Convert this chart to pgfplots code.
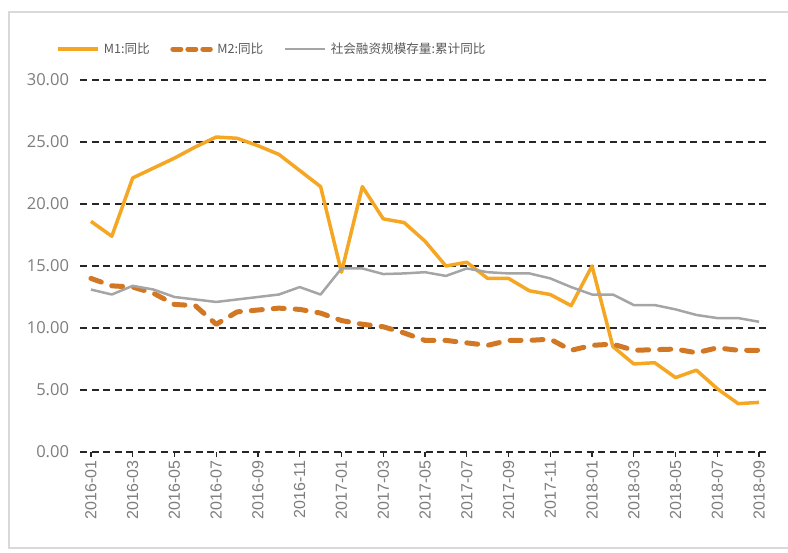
\documentclass[border=0pt]{standalone}
\usepackage{pgfplots}
\pgfplotsset{compat=1.18}
\usepackage{pgfplotstable}
\usepackage{fontspec}
\setmainfont{Open Sans}
\newfontfamily\cjk{Noto Sans CJK SC}
\newfontfamily\lib{Liberation Sans}
\definecolor{mone}{RGB}{245,166,35}
\definecolor{mtwo}{RGB}{210,120,36}
\definecolor{tsf}{RGB}{165,165,165}
\definecolor{lab}{RGB}{125,125,125}
\definecolor{leg}{RGB}{89,89,89}
\pgfplotstableread{
n m1 m2 tsf
0 18.6 14.0 13.1
1 17.4 13.4 12.7
2 22.1 13.3 13.4
3 22.9 12.8 13.1
4 23.7 11.9 12.5
5 24.6 11.8 12.3
6 25.4 10.3 12.1
7 25.3 11.3 12.3
8 24.7 11.45 12.5
9 24.0 11.6 12.7
10 22.7 11.5 13.3
11 21.4 11.2 12.7
12 14.5 10.6 14.8
13 21.4 10.3 14.8
14 18.8 10.1 14.35
15 18.5 9.6 14.4
16 17.0 9.0 14.5
17 15.0 9.0 14.2
18 15.3 8.8 14.8
19 14.0 8.6 14.5
20 14.0 9.0 14.4
21 13.0 9.0 14.4
22 12.7 9.1 14.0
23 11.8 8.2 13.3
24 15.0 8.6 12.7
25 8.5 8.7 12.7
26 7.1 8.2 11.85
27 7.2 8.25 11.85
28 6.0 8.3 11.5
29 6.6 8.0 11.05
30 5.1 8.4 10.8
31 3.9 8.2 10.8
32 4.0 8.2 10.5
}\data
\begin{document}
\begin{tikzpicture}[x=1pt,y=1pt]
\useasboundingbox (0,0) rectangle (788,553);
\draw[black!15, line width=1.2pt] (790,541) -- (9,541) -- (9,5) -- (790,5);
\begin{axis}[
  at={(80.5pt,101pt)}, anchor=south west,
  scale only axis, width=689pt, height=372pt,
  xmin=-0.5, xmax=32.5, ymin=0, ymax=30,
  axis line style={draw=none},
  clip=false,
  ytick={0,5,...,30},
  yticklabels={0.00,5.00,10.00,15.00,20.00,25.00,30.00},
  ymajorgrids,
  grid style={black!85, line width=1.6pt, dash pattern=on 7pt off 4.5pt},
  ytick style={draw=none},
  xtick={0,2,...,32},
  xticklabels={2016-01,2016-03,2016-05,2016-07,2016-09,2016-11,2017-01,2017-03,2017-05,2017-07,2017-09,2017-11,2018-01,2018-03,2018-05,2018-07,2018-09},
  xtick pos=bottom, xtick align=outside,
  major tick length=5pt,
  xtick style={black!85, line width=1.3pt},
  x tick label style={rotate=90, anchor=east, font=\lib\fontsize{16}{16}\selectfont, text=lab},
  y tick label style={font=\fontsize{16.5}{17}\selectfont, text=lab, xshift=-8pt},
  legend columns=3,
  legend style={at={(-0.036,1.083)}, anchor=west, draw=none, fill=none,
    font=\cjk\fontsize{12.6}{14}\selectfont, text=leg, inner sep=0pt,
    nodes={inner xsep=4.5pt},
    /tikz/every even column/.append style={column sep=16pt}},
  legend image code/.code={\draw[#1] (0pt,0pt) -- (40pt,0pt);},
  no markers,
]
\addplot[mone, line width=3.5pt, line join=round] table[x=n,y=m1]{\data};
\addlegendentry{M1:同比}
\addplot[mtwo, line width=5pt, line cap=round, line join=round, dash pattern=on 11pt off 11pt,
  legend image code/.code={\draw[mtwo,line width=5pt,line cap=round,dash pattern=on 8pt off 7pt] (2.5pt,0pt) -- (40pt,0pt);}] table[x=n,y=m2]{\data};
\addlegendentry{M2:同比}
\addplot[tsf, line width=2.5pt, line join=round] table[x=n,y=tsf]{\data};
\addlegendentry{社会融资规模存量:累计同比}
\end{axis}
\end{tikzpicture}
\end{document}
